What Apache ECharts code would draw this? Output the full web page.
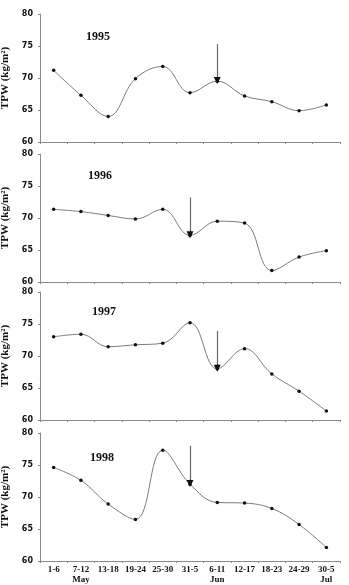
<!DOCTYPE html>
<html><head><meta charset="utf-8">
<script src="https://cdn.jsdelivr.net/npm/echarts@6/dist/echarts.min.js"></script>
<style>html,body{margin:0;padding:0;background:#fff;}#c{width:349px;height:585px;}</style>
</head><body><div id="c"></div>
<script>
var categories = ['1-6','7-12','13-18','19-24','25-30','31-5','6-11','12-17','18-23','24-29','30-5'];
var months = ['', 'May', '', '', '', '', 'Jun', '', '', '', 'Jul'];
var years = ['1995','1996','1997','1998'];
var tpw1995 = [71.2, 67.3, 64.0, 69.9, 71.8, 67.7, 69.5, 67.2, 66.3, 64.9, 65.8];
var tpw1996 = [71.35, 71.0, 70.4, 69.85, 71.35, 67.3, 69.5, 69.2, 61.8, 63.9, 64.9];
var tpw1997 = [73.0, 73.4, 71.45, 71.75, 72.0, 75.2, 68.0, 71.15, 67.2, 64.5, 61.4];
var tpw1998 = [74.6, 72.6, 68.9, 66.5, 77.3, 72.0, 69.15, 69.05, 68.2, 65.7, 62.1];
// arrows: [category index, start value, end value]
var arrows = [[6, 75.3, 69.6], [5, 73.2, 67.4], [6, 73.9, 68.1], [5, 78.0, 72.1]];
var yTicks = [60, 65, 70, 75, 80];

var series = [tpw1995, tpw1996, tpw1997, tpw1998];
var tops = [14, 154, 292, 433];
var yearPos = [[86, 24], [88, 23], [92, 21], [90, 26]];
var h = 128;
var chart = echarts.init(document.getElementById('c'));
var grids = [], xAxes = [], yAxes = [], ser = [], graphics = [];
for (var i = 0; i < 4; i++) {
  grids.push({left: 40, width: 300, top: tops[i], height: h, containLabel: false, outerBoundsMode: 'none'});
  var last = i === 3;
  xAxes.push({
    type: 'category', gridIndex: i, data: categories, boundaryGap: true,
    axisLine: {lineStyle: {color: '#8a8a8a', width: 1}},
    axisTick: {show: true, length: 2, lineStyle: {color: '#8a8a8a'}},
    axisLabel: {
      show: last, interval: 0, margin: 4, color: '#111',
      fontFamily: 'Liberation Serif', fontWeight: 'bold', fontSize: 9, lineHeight: 10,
      formatter: function (v, idx) { return months[idx] ? v + '\n' + months[idx] : v; }
    }
  });
  yAxes.push({
    type: 'value', gridIndex: i, min: 60, max: 80, interval: 5,
    name: 'TPW (kg/m\u00b2)', nameLocation: 'middle', nameGap: 27,
    nameTextStyle: {fontFamily: 'Liberation Serif', fontWeight: 'bold', fontSize: 11, color: '#111'},
    splitLine: {show: false},
    axisLine: {show: true, lineStyle: {color: '#8a8a8a', width: 1}},
    axisTick: {show: true, length: 2, lineStyle: {color: '#8a8a8a'}},
    axisLabel: {margin: 7, color: '#111', fontFamily: 'DejaVu Sans', fontWeight: 'bold', fontSize: 8,
      formatter: function (v) { return yTicks.indexOf(v) >= 0 ? String(v) : ''; }}
  });
  var a = arrows[i];
  ser.push({
    type: 'line', xAxisIndex: i, yAxisIndex: i, data: series[i], smooth: 0.4,
    symbol: 'circle', symbolSize: 3.5,
    itemStyle: {color: '#111'},
    lineStyle: {color: '#7a7a7a', width: 1},
    markLine: {
      silent: true, symbol: ['none', 'none'], symbolSize: [7, 7],
      label: {show: false},
      data: [
        [{coord: [a[0], a[1]], lineStyle: {color: '#6a6a6a', width: 1.2, type: 'solid'}},
         {coord: [a[0], a[2]]}],
        [{coord: [a[0], a[2] + 0.6], lineStyle: {color: '#111', width: 1.2, type: 'solid'}},
         {coord: [a[0], a[2]], symbol: 'triangle', symbolSize: 7, symbolRotate: 180}]
      ]
    }
  });
  graphics.push({type: 'text', left: yearPos[i][0], top: tops[i] + yearPos[i][1] - 7,
    style: {text: years[i], fill: '#111', font: 'bold 12px "Liberation Serif"'}});
}
chart.setOption({animation: false, grid: grids, xAxis: xAxes, yAxis: yAxes, series: ser, graphic: graphics});
</script></body></html>
